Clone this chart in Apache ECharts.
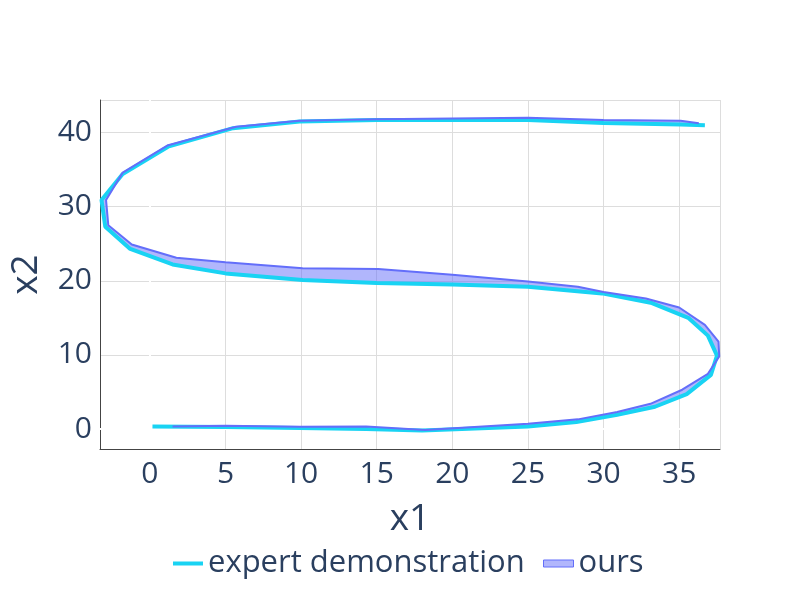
<!DOCTYPE html>
<html>
<head>
<meta charset="utf-8">
<script src="https://cdn.jsdelivr.net/npm/echarts@6/dist/echarts.min.js"></script>
<style>html,body{margin:0;padding:0;background:#fff;}#c{width:800px;height:600px;}</style>
</head>
<body>
<div id="c"></div>
<script>
var expertX = [0.17, 5.0, 9.9, 14.3, 18.0, 25.0, 28.2, 30.9, 33.4, 35.5, 37.1, 37.5, 36.9, 35.6, 33.2, 29.9, 25.0, 20.0, 15.0, 10.1, 5.0, 1.5, -1.3, -2.95, -3.2, -1.8, 1.2, 5.5, 9.9, 15.0, 25.0, 30.0, 35.1, 36.7];
var expertY = [0.35, 0.27, 0.13, 0.0, -0.2, 0.35, 0.95, 1.93, 3.0, 4.7, 7.3, 9.9, 12.6, 15.0, 17.0, 18.3, 19.2, 19.5, 19.7, 20.1, 21.0, 22.2, 24.3, 27.3, 30.9, 34.4, 38.1, 40.6, 41.5, 41.7, 41.7, 41.3, 41.1, 41.0];
var oursX = [1.5, 5.0, 9.9, 14.3, 18.2, 25.0, 28.3, 30.9, 33.1, 35.2, 36.9, 37.65, 37.6, 36.7, 35.0, 32.8, 30.0, 28.3, 25.0, 20.0, 15.1, 10.1, 5.0, 1.75, -1.2, -2.75, -2.9, -1.8, 1.2, 5.7, 9.9, 15.0, 25.0, 30.0, 35.1, 36.3];
var oursY = [0.35, 0.44, 0.3, 0.35, -0.15, 0.7, 1.3, 2.3, 3.4, 5.3, 7.45, 9.8, 11.8, 14.05, 16.4, 17.6, 18.5, 19.2, 19.9, 20.8, 21.6, 21.7, 22.5, 23.1, 24.9, 27.5, 30.9, 34.6, 38.3, 40.8, 41.6, 41.8, 42.0, 41.7, 41.6, 41.25];
var seriesNames = ['expert demonstration', 'ours'];
var xRange = [-3.3, 37.7];
var yRange = [-2.7, 44.4];

function pairs(xs, ys) { return xs.map(function (x, i) { return [x, ys[i]]; }); }

var FONT = '"Open Sans", "Noto Sans", sans-serif';
var TXT = '#2a3f5f';
var chart = echarts.init(document.getElementById('c'), null, {renderer: 'canvas'});
chart.setOption({
  animation: false,
  backgroundColor: '#ffffff',
  grid: {left: 97, right: 80, top: 100, bottom: 151, containLabel: false},
  xAxis: {
    type: 'value', min: xRange[0], max: xRange[1], splitNumber: 8,
    name: 'x1', nameLocation: 'middle', nameGap: 52,
    nameTextStyle: {fontSize: 37, color: TXT, fontFamily: FONT},
    axisLine: {show: true, onZero: false, lineStyle: {color: '#444', width: 1}},
    axisTick: {show: false},
    axisLabel: {fontSize: 30, color: TXT, fontFamily: FONT, margin: 10, showMinLabel: false, showMaxLabel: false},
    splitLine: {show: true, lineStyle: {color: '#dddddd', width: 1}}
  },
  yAxis: {
    type: 'value', min: yRange[0], max: yRange[1], splitNumber: 5,
    name: 'x2', nameLocation: 'middle', nameGap: 55,
    nameTextStyle: {fontSize: 37, color: TXT, fontFamily: FONT},
    axisLine: {show: true, onZero: false, lineStyle: {color: '#444', width: 1}},
    axisTick: {show: false},
    axisLabel: {fontSize: 30, color: TXT, fontFamily: FONT, margin: 8, showMinLabel: false, showMaxLabel: false},
    splitLine: {show: true, lineStyle: {color: '#dddddd', width: 1}}
  },
  legend: [{
    data: [{name: seriesNames[0], icon: 'rect', itemStyle: {color: '#19d3f3'}}],
    left: 168, top: 543, itemWidth: 30, itemHeight: 4, itemGap: 10,
    textStyle: {fontSize: 31, color: TXT, fontFamily: FONT}
  }, {
    data: [{name: seriesNames[1], icon: 'rect', itemStyle: {color: 'rgba(99,110,250,0.5)', borderColor: '#636efa', borderWidth: 1}}],
    left: 538, top: 543, itemWidth: 30, itemHeight: 7, itemGap: 10,
    textStyle: {fontSize: 31, color: TXT, fontFamily: FONT}
  }],
  series: [{
    type: 'line', name: 'zeroline', data: [[0, 0]], showSymbol: false, symbol: 'none', silent: true, z: 1,
    lineStyle: {width: 0},
    markLine: {silent: true, symbol: 'none', label: {show: false}, animation: false, z: 1,
      lineStyle: {color: '#ffffff', width: 2, type: 'solid'},
      data: [{xAxis: 0}, {yAxis: 0}]}
  }, {
    type: 'custom', name: 'oursFill', silent: true, z: 2,
    data: [[0, 0]],
    renderItem: function (params, api) {
      var pts = [];
      for (var i = 0; i < oursX.length; i++) pts.push(api.coord([oursX[i], oursY[i]]));
      for (var j = expertX.length - 1; j >= 0; j--) pts.push(api.coord([expertX[j], expertY[j]]));
      return {
        type: 'polygon',
        shape: {points: pts},
        style: {fill: 'rgba(99,110,250,0.5)', stroke: null}
      };
    }
  }, {
    type: 'line', name: seriesNames[0], data: pairs(expertX, expertY), z: 3,
    showSymbol: false, symbol: 'none', smooth: false, color: '#19d3f3',
    lineStyle: {color: '#19d3f3', width: 4}
  }, {
    type: 'line', name: seriesNames[1], data: pairs(oursX, oursY), z: 4,
    showSymbol: false, symbol: 'none', smooth: false, color: '#636efa',
    lineStyle: {color: '#636efa', width: 2}
  }]
});
</script>
</body>
</html>
